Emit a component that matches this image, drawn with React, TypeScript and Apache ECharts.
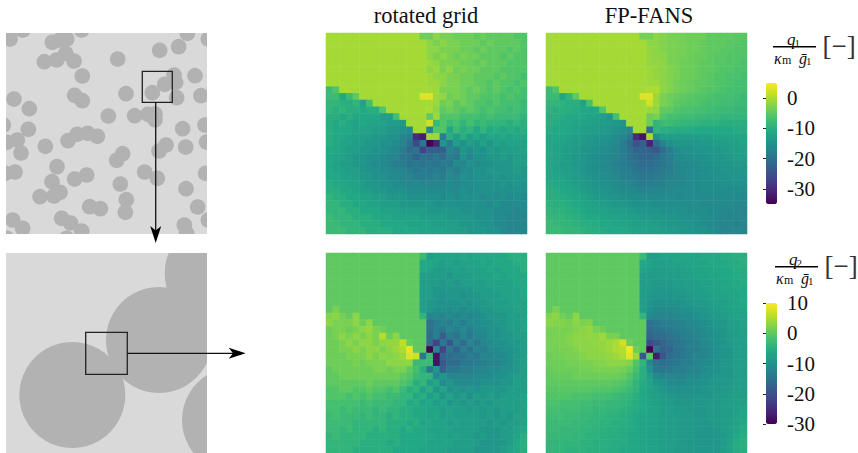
import React, { useEffect, useRef } from "react";
import * as echarts from "echarts";

const a = -0.5;
const q1Rotated = [
[a,a,a,a,a,a,a,a,a,a,a,a,a,a,-4,-4,-2,-3,-3,-4,-4,-4,-5,-4,-5,-5,-5,-5,-6,-6],
[a,a,a,a,a,a,a,a,a,a,a,a,a,a,a,-2,-3,-2,-3,-3,-4,-4,-4,-5,-4,-5,-5,-5,-5,-6],
[a,a,a,a,a,a,a,a,a,a,a,a,a,a,a,-2,-2,-3,-3,-3,-4,-4,-5,-4,-5,-5,-5,-6,-5,-6],
[a,a,a,a,a,a,a,a,a,a,a,a,a,a,a,-2,-3,-2,-3,-4,-3,-4,-4,-5,-5,-5,-6,-5,-6,-6],
[a,a,a,a,a,a,a,a,a,a,a,a,a,a,a,-1,-2,-3,-3,-3,-4,-4,-5,-4,-5,-5,-5,-6,-6,-6],
[a,a,a,a,a,a,a,a,a,a,a,a,a,a,a,-2,-1,-3,-2,-4,-3,-4,-4,-5,-5,-5,-6,-6,-6,-6],
[a,a,a,a,a,a,a,a,a,a,a,a,a,a,a,-1,-2,-2,-3,-3,-4,-4,-5,-5,-5,-6,-5,-6,-6,-7],
[a,a,a,a,a,a,a,a,a,a,a,a,a,a,a,-1,-1,-2,-3,-3,-4,-4,-5,-5,-6,-5,-6,-6,-7,-6],
[-8,-6,a,a,a,a,a,a,a,a,a,a,a,a,a,a,-1,-3,-3,-3,-4,-5,-4,-5,-6,-5,-6,-7,-6,-7],
[-8,-8,-11,-8,-5,a,a,a,a,a,a,a,a,a,3,3,-1,-1.5,-4,-3,-4,-5,-5,-6,-6,-6,-7,-6,-7,-7],
[-9,-9,-10,-10,-9,-12,-7,a,a,a,a,a,a,a,a,a,-1,-4,-3,-5,-4,-5,-6,-6,-7,-6,-7,-7,-7,-8],
[-9,-10,-9,-10,-10,-11,-10,-10,-6,a,a,a,a,a,a,0,-2,-5,-4,-5,-6,-5,-6,-7,-6,-7,-7,-8,-7,-8],
[-10,-10,-11,-10,-11,-11,-11,-11,-13,-13,-7,a,a,a,a,-5,-1,-6,-6,-6,-7,-7,-7,-8,-7,-8,-8,-8,-8,-9],
[-10,-11,-10,-11,-12,-11,-12,-12,-12,-13,-13,-14,a,a,a,2,-8,-6,-8,-7,-9,-7,-9,-8,-9,-9,-9,-10,-9,-10],
[-10,-11,-11,-11,-12,-12,-12,-13,-13,-14,-14,-15,-16,a,a,-17,-6,-6,-11,-8,-10,-9,-11,-9,-11,-10,-11,-10,-11,-10],
[-10,-11,-11,-12,-12,-13,-13,-14,-14,-15,-15,-17,-18,-30,-32,-1,-1,-18,-10,-13,-10,-13,-11,-13,-11,-12,-11,-12,-11,-11],
[-10,-11,-12,-12,-13,-13,-14,-14,-15,-15,-16,-17,-20,-26,-19,-35,-31,-14,-18,-13,-15,-13,-14,-12,-14,-12,-13,-12,-12,-12],
[-11,-11,-12,-13,-13,-14,-14,-15,-15,-16,-17,-18,-21,-20,-27,-23,-23,-23,-17,-18,-14,-16,-14,-15,-13,-14,-13,-13,-13,-12],
[-11,-12,-12,-13,-14,-14,-15,-15,-16,-17,-17,-19,-20,-22,-20,-21,-19,-21,-18,-19,-15,-17,-15,-15,-14,-14,-13,-14,-13,-13],
[-11,-12,-13,-13,-14,-14,-15,-16,-16,-17,-18,-18,-20,-19,-20,-19,-20,-18,-19,-16,-17,-15,-16,-15,-15,-14,-14,-14,-13,-13],
[-11,-12,-12,-13,-13,-14,-15,-15,-16,-16,-17,-17,-18,-19,-18,-19,-18,-19,-17,-18,-16,-16,-15,-15,-14,-14,-14,-14,-13,-14],
[-11,-11,-12,-12,-13,-14,-14,-15,-15,-16,-16,-17,-17,-18,-18,-18,-17,-18,-16,-17,-15,-16,-15,-15,-15,-14,-15,-14,-14,-14],
[-10,-11,-11,-12,-12,-13,-14,-14,-15,-15,-16,-16,-17,-16,-17,-17,-17,-17,-16,-17,-16,-16,-15,-15,-15,-15,-14,-15,-14,-15],
[-10,-10,-11,-11,-12,-13,-13,-14,-14,-15,-15,-15,-16,-16,-16,-16,-16,-16,-16,-16,-15,-16,-15,-15,-15,-15,-15,-15,-15,-15],
[-9,-10,-10,-11,-11,-12,-12,-13,-13,-14,-14,-14,-15,-15,-15,-15,-15,-16,-15,-16,-15,-15,-15,-16,-15,-16,-15,-16,-15,-16],
[-9,-9,-10,-10,-11,-11,-12,-12,-13,-13,-13,-14,-14,-14,-14,-14,-15,-15,-15,-15,-15,-15,-15,-15,-16,-15,-16,-16,-16,-16],
[-9,-9,-9,-10,-10,-11,-11,-11,-12,-12,-12,-13,-13,-13,-13,-14,-14,-14,-14,-14,-15,-15,-15,-15,-15,-16,-16,-16,-17,-16],
[-8,-9,-9,-9,-10,-10,-10,-11,-11,-11,-12,-12,-12,-12,-13,-13,-13,-13,-14,-14,-14,-14,-15,-15,-15,-16,-16,-17,-17,-17],
[-8,-8,-9,-9,-9,-10,-10,-10,-11,-11,-11,-11,-12,-12,-12,-12,-13,-13,-13,-13,-14,-14,-14,-15,-15,-16,-16,-17,-17,-17],
[-8,-8,-8,-9,-9,-9,-10,-10,-10,-10,-11,-11,-11,-11,-12,-12,-12,-12,-13,-13,-13,-14,-14,-14,-15,-15,-16,-17,-17,-17],
];
const q1Fans = [
[a,a,a,a,a,a,a,a,a,a,a,a,a,a,-3.5,-3.5,-2,-2.5,-3,-3,-3.5,-4,-4,-4,-5,-5,-5,-5,-5.5,-5.5],
[a,a,a,a,a,a,a,a,a,a,a,a,a,a,a,-2,-2,-2.5,-3,-3,-3.5,-4,-4,-4.5,-5,-5,-5,-5.5,-5.5,-6],
[a,a,a,a,a,a,a,a,a,a,a,a,a,a,a,-1.5,-2,-2.5,-3,-3,-3.5,-4,-4,-4.5,-5,-5,-5.5,-5.5,-6,-6],
[a,a,a,a,a,a,a,a,a,a,a,a,a,a,a,-1.5,-2,-2,-3,-3,-3.5,-4,-4.5,-4.5,-5,-5.5,-5.5,-6,-6,-6],
[a,a,a,a,a,a,a,a,a,a,a,a,a,a,a,-1.5,-1.5,-2,-3,-3,-4,-4,-4.5,-5,-5,-5.5,-5.5,-6,-6,-6.5],
[a,a,a,a,a,a,a,a,a,a,a,a,a,a,a,-1,-1.5,-2,-2.5,-3,-4,-4,-4.5,-5,-5,-5.5,-6,-6,-6.5,-6.5],
[a,a,a,a,a,a,a,a,a,a,a,a,a,a,a,-1,-1.5,-2,-2.5,-3,-4,-4,-4.5,-5,-5.5,-6,-6,-6.5,-6.5,-7],
[a,a,a,a,a,a,a,a,a,a,a,a,a,a,a,-1,-1,-2,-2.5,-3.5,-4,-4.5,-5,-5,-5.5,-6,-6,-6.5,-7,-7],
[-8,-6,a,a,a,a,a,a,a,a,a,a,a,a,a,0,0,-2,-2.5,-3.5,-4,-4.5,-5,-5.5,-6,-6,-6.5,-7,-7,-7],
[-8,-8,-11,-9,-5,a,a,a,a,a,a,a,a,a,3,3,-1,-3,-4,-4.5,-5,-5.5,-6,-6,-6.5,-7,-7,-7,-7.5,-8],
[-9,-9,-9.5,-10,-10,-12,-7,a,a,a,a,a,a,a,a,2,-1,-3,-4,-5,-5.5,-6,-6,-6.5,-7,-7,-7.5,-7.5,-8,-8],
[-9.5,-10,-10,-10,-10.5,-11,-11,-11,-6,a,a,a,a,a,a,-1,-1.5,-5,-5,-6,-6.5,-6.5,-7,-7,-7.5,-8,-8,-8,-8.5,-8.5],
[-10,-10,-10.5,-11,-11,-11,-11.5,-12,-13,-14,-7,a,a,a,a,-4,-3,-6,-7,-7,-7.5,-7.5,-8,-8,-8.5,-8.5,-9,-9,-9,-9],
[-10,-10.5,-11,-11,-11.5,-12,-12,-12.5,-13,-13.5,-14,-14.5,a,a,a,-4,-9,-8,-8,-8.5,-8.5,-9,-9,-9.5,-9.5,-9.5,-10,-10,-10,-10],
[-10.5,-11,-11,-11.5,-12,-12.5,-13,-13,-13.5,-14,-15,-15.5,-17,a,a,-21,-9,-10,-10,-10.5,-10.5,-10.5,-11,-11,-11,-11,-11,-11,-10.5,-10.5],
[-11,-11,-11.5,-12,-12.5,-13,-13.5,-14,-14.5,-15,-16,-17,-19,-30,-33,a,-15,-13,-13,-13,-13,-13,-13,-12.5,-12.5,-12,-12,-12,-11.5,-11.5],
[-11,-11.5,-12,-12.5,-13,-13.5,-14,-14.5,-15,-15.5,-16,-18,-21,-25,-23,-31,-21,-17,-15,-14,-14,-14,-14,-13.5,-13.5,-13,-13,-12.5,-12.5,-12],
[-11,-12,-12.5,-13,-13.5,-14,-14.5,-15,-15.5,-16,-17,-18,-20,-22,-22,-23,-24,-21,-18,-16,-15,-15,-14.5,-14.5,-14,-14,-13.5,-13,-13,-12.5],
[-11,-12,-12.5,-13,-14,-14,-15,-15.5,-16,-16.5,-17,-18,-20,-21,-21.5,-22,-21,-19,-18,-16.5,-16,-15.5,-15,-15,-14.5,-14,-14,-13.5,-13,-13],
[-11,-12,-13,-13,-14,-14.5,-15,-15.5,-16,-16.5,-17.5,-18,-19,-20,-21,-21,-20,-19,-18,-17,-16,-16,-15.5,-15,-15,-14.5,-14,-14,-13.5,-13.5],
[-11,-12,-12.5,-13,-13.5,-14.5,-15,-15.5,-16,-16.5,-17,-18,-18.5,-19.5,-20,-20,-19.5,-18.5,-18,-17,-16.5,-16,-16,-15.5,-15,-15,-14.5,-14.5,-14,-14],
[-11,-11.5,-12,-12.5,-13.5,-14,-14.5,-15,-15.5,-16,-16.5,-17.5,-18,-18.5,-19,-19,-18.5,-18,-17.5,-17,-16.5,-16,-16,-15.5,-15.5,-15,-15,-14.5,-14.5,-14.5],
[-10.5,-11,-11.5,-12,-13,-13.5,-14,-14.5,-15,-15.5,-16,-16.5,-17,-17.5,-18,-18,-17.5,-17.5,-17,-16.5,-16.5,-16,-16,-15.5,-15.5,-15.5,-15,-15,-15,-15],
[-10,-10.5,-11,-11.5,-12,-13,-13.5,-14,-14.5,-15,-15.5,-16,-16,-16.5,-17,-17,-17,-16.5,-16.5,-16,-16,-16,-16,-15.5,-15.5,-15.5,-15.5,-15.5,-15.5,-15.5],
[-10,-10,-10.5,-11,-11.5,-12,-13,-13.5,-14,-14.5,-14.5,-15,-15.5,-15.5,-16,-16,-16,-16,-16,-16,-16,-16,-16,-16,-16,-16,-16,-16,-16,-16],
[-9.5,-10,-10,-10.5,-11,-11.5,-12,-12.5,-13,-13.5,-14,-14,-14.5,-15,-15,-15,-15.5,-15.5,-15.5,-15.5,-15.5,-15.5,-15.5,-16,-16,-16,-16,-16,-16.5,-16.5],
[-9,-9.5,-9.5,-10,-10.5,-11,-11.5,-12,-12,-12.5,-13,-13,-13.5,-14,-14,-14.5,-14.5,-15,-15,-15,-15,-15.5,-15.5,-15.5,-16,-16,-16.5,-16.5,-16.5,-17],
[-8.5,-9,-9,-9.5,-10,-10.5,-11,-11,-11.5,-12,-12,-12.5,-13,-13,-13.5,-13.5,-14,-14,-14.5,-14.5,-15,-15,-15,-15.5,-16,-16,-16.5,-17,-17,-17],
[-8,-8.5,-9,-9,-9.5,-10,-10,-10.5,-11,-11,-11.5,-12,-12,-12.5,-12.5,-13,-13,-13.5,-14,-14,-14.5,-14.5,-15,-15.5,-16,-16.5,-17,-17,-17.5,-17],
[-8,-8,-8.5,-9,-9,-9.5,-10,-10,-10.5,-11,-11,-11,-11.5,-12,-12,-12.5,-12.5,-13,-13.5,-13.5,-14,-14.5,-15,-15,-15.5,-16,-17,-17,-17,-17],
];
const q2Rotated = [
[0,0,0,0,0,0,0,0,0,0,0,0,0,0,-3,-8,-7,-7,-7,-7,-6,-7,-6,-6,-6,-6,-6,-5,-5,-5],
[0,0,0,0,0,0,0,0,0,0,0,0,0,0,-6,-6,-7,-8,-7,-8,-7,-7,-7,-6,-7,-6,-6,-6,-5,-5],
[0,0,0,0,0,0,0,0,0,0,0,0,0,0,-6,-7,-8,-8,-8,-7,-8,-7,-7,-7,-6,-7,-6,-6,-6,-5],
[0,0,0,0,0,0,0,0,0,0,0,0,0,0,-8,-8,-8,-8,-9,-8,-8,-8,-7,-7,-7,-6,-7,-6,-6,-6],
[0,0,0,0,0,0,0,0,0,0,0,0,0,0,-8,-8,-8,-9,-8,-9,-8,-8,-8,-8,-7,-7,-7,-7,-6,-6],
[0,0,0,0,0,0,0,0,0,0,0,0,0,0,-8,-8,-9,-9,-9,-9,-9,-9,-8,-8,-8,-7,-7,-7,-7,-6],
[0,0,0,0,0,0,0,0,0,0,0,0,0,0,-8,-8,-9,-10,-9,-9,-10,-9,-9,-8,-8,-8,-7,-7,-7,-6],
[0,0,0,0,0,0,0,0,0,0,0,0,0,0,-8,-9,-9,-10,-10,-10,-9,-10,-9,-9,-8,-8,-8,-7,-7,-7],
[0,2,0,0,0,0,0,0,0,0,0,0,0,0,-8,-9,-10,-10,-11,-10,-11,-10,-10,-9,-9,-8,-8,-8,-7,-7],
[2.5,3,1.5,0.5,3,0,0,0,0,0,0,0,0,0,-4,-12,-11,-12,-11,-12,-11,-12,-11,-10,-9,-9,-9,-8,-8,-7],
[3,2,2,2,3,1,3,0,0,0,0,0,0,0,0,-15,-13,-12,-13,-11,-13,-11,-11,-10,-10,-9,-9,-8,-8,-7],
[1,2,2,1,2,3,3.5,2,1,0,0,0,0,0,0,-15,-13,-14,-12,-13,-11,-13,-11,-11,-10,-10,-9,-8,-8,-7],
[1,2,3,2,3,2,3,2,5.5,1,3,0,0,0,0,-16,-13,-18,-13,-15,-12,-14,-12,-12,-10,-10,-9,-9,-8,-8],
[1,1,2,3,2,3,3,2,3,3.5,3.5,6,1,0,0,-16,-22,-14,-19,-13,-16,-12,-14,-12,-11,-10,-10,-9,-9,-8],
[1,1,2,2,3,2,3,3,2,3,4,5,8.5,0,0,-30,-12,-22,-14,-17,-13,-15,-12,-13,-11,-11,-10,-10,-9,-8],
[1,1,1,2,2,2,3,2,3,2.5,3,4,8,7,-14,-3,-28,-17,-16,-15,-15,-13,-14,-12,-12,-11,-11,-10,-9,-8],
[1,1,1,1,2,1,2,2,2,3,3,3,3,-3,-3,-3,-28,-19,-16,-16,-14,-14,-13,-13,-12,-12,-11,-10,-9,-8],
[0,1,1,1,1,1,1,2,2,1,2,2,0,-2,-5,-14,-9,-18,-14,-14,-13,-13,-12,-12,-11,-11,-10,-10,-9,-8],
[0,0,1,1,1,1,1,1,1,1,1,0,-1,-3,-4,-4,-11,-9,-12,-12,-12,-12,-11,-11,-11,-10,-10,-9,-8,-8],
[0,0,0,0,0,0,1,0,0,0,0,-1,-2,-5,-4,-8,-6,-11,-9,-11,-11,-11,-11,-10,-10,-10,-9,-9,-8,-8],
[-1,-1,0,0,-1,-1,0,-1,-1,-2,-1,-3,-5,-4,-7,-5,-9,-7,-10,-9,-10,-9,-10,-9,-9,-9,-9,-8,-8,-8],
[-1,-1,-1,-2,-1,-2,-1,-2,-2,-3,-3,-4,-4,-6,-5,-8,-6,-9,-7,-9,-8,-10,-8,-9,-8,-9,-8,-8,-8,-7],
[-2,-2,-2,-2,-2,-3,-2,-3,-3,-3,-4,-4,-6,-5,-7,-6,-8,-7,-9,-8,-9,-8,-9,-8,-9,-8,-8,-8,-8,-7],
[-2,-2,-3,-2,-3,-3,-3,-4,-3,-4,-4,-5,-5,-6,-6,-7,-7,-8,-7,-8,-8,-9,-8,-9,-8,-9,-8,-8,-8,-7],
[-3,-2,-3,-3,-3,-4,-3,-4,-4,-5,-4,-5,-5,-6,-6,-7,-6,-8,-7,-8,-8,-8,-8,-9,-8,-9,-8,-9,-7,-7],
[-3,-3,-3,-3,-4,-4,-4,-4,-4,-5,-5,-5,-6,-5,-7,-6,-7,-7,-8,-7,-8,-8,-8,-8,-9,-8,-9,-8,-8,-7],
[-3,-3,-4,-3,-4,-4,-4,-5,-4,-5,-5,-6,-5,-6,-6,-7,-7,-7,-7,-8,-8,-8,-8,-9,-9,-9,-8,-8,-7,-6],
[-4,-3,-4,-4,-4,-4,-5,-5,-5,-5,-5,-6,-6,-6,-6,-6,-7,-7,-8,-7,-8,-8,-9,-8,-9,-9,-8,-8,-7,-5],
[-4,-4,-4,-4,-4,-5,-5,-5,-5,-6,-5,-6,-6,-6,-6,-7,-7,-7,-7,-8,-8,-8,-8,-9,-9,-9,-9,-8,-6,-5],
[-4,-4,-4,-4,-5,-5,-5,-5,-5,-5,-6,-6,-6,-6,-7,-7,-7,-7,-8,-8,-8,-8,-9,-9,-9,-9,-8,-7,-6,-5],
];
const q2Fans = [
[0,0,0,0,0,0,0,0,0,0,0,0,0,0,-3,-8,-7.5,-7,-7,-7,-6.5,-6.5,-6.5,-6,-6,-6,-5.5,-5.5,-5,-5],
[0,0,0,0,0,0,0,0,0,0,0,0,0,0,-6,-7,-7.5,-7.5,-7.5,-7,-7,-7,-6.5,-6.5,-6,-6,-6,-5.5,-5.5,-5],
[0,0,0,0,0,0,0,0,0,0,0,0,0,0,-6.5,-7.5,-8,-8,-7.5,-7.5,-7.5,-7,-7,-6.5,-6.5,-6,-6,-6,-5.5,-5.5],
[0,0,0,0,0,0,0,0,0,0,0,0,0,0,-8,-8,-8,-8,-8,-8,-7.5,-7.5,-7,-7,-6.5,-6.5,-6,-6,-5.5,-5.5],
[0,0,0,0,0,0,0,0,0,0,0,0,0,0,-8,-8,-8.5,-8.5,-8.5,-8,-8,-8,-7.5,-7,-7,-6.5,-6.5,-6,-6,-5.5],
[0,0,0,0,0,0,0,0,0,0,0,0,0,0,-8,-8.5,-9,-9,-9,-8.5,-8.5,-8,-8,-7.5,-7,-7,-6.5,-6.5,-6,-6],
[0,0,0,0,0,0,0,0,0,0,0,0,0,0,-8,-9,-9,-9.5,-9.5,-9,-9,-8.5,-8,-8,-7.5,-7,-7,-6.5,-6.5,-6],
[0,0,0,0,0,0,0,0,0,0,0,0,0,0,-8,-9.5,-10,-10,-10,-10,-9.5,-9,-8.5,-8.5,-8,-7.5,-7.5,-7,-6.5,-6],
[0,2,0,0,0,0,0,0,0,0,0,0,0,0,-8,-10,-11,-11,-11,-10.5,-10,-10,-9.5,-9,-8.5,-8,-7.5,-7,-7,-6.5],
[2.5,3,1.5,0.5,3,0,0,0,0,0,0,0,0,0,-4,-11,-12,-12,-12,-11.5,-11,-11,-10,-9.5,-9,-8.5,-8,-7.5,-7,-7],
[3,2.5,2.5,2,3,2,2.5,0,0,0,0,0,0,0,0,-15,-14,-13,-13,-12.5,-12,-11.5,-11,-10.5,-10,-9,-9,-8,-7.5,-7],
[2,2,2,2,2.5,3,3.5,2,1,0,0,0,0,0,0,-16,-15,-14,-14,-13,-12.5,-12,-11.5,-11,-10,-9.5,-9,-8,-8,-7.5],
[1.5,2,2,2.5,3,3,3.5,3,4,2,2,0,0,0,0,-17,-16,-16,-15,-14,-13,-12.5,-12,-11,-10.5,-10,-9,-8.5,-8,-7.5],
[1.5,2,2,2.5,3,3,3,3.5,3.5,4,5,7,1,0,0,-21,-19,-17,-16,-15,-14,-13,-12.5,-11.5,-11,-10,-9.5,-8.5,-8,-8],
[1.5,1.5,2,2,2.5,3,3,3,3.5,4,5,5.5,9.5,1,0,-30,-15,-18,-17,-15,-14,-13,-12.5,-12,-11,-10,-9.5,-9,-8,-8],
[1,1.5,1.5,2,2,2.5,3,3,3,3.5,4,5,8.5,4,-19,0,-27,-19,-16,-15,-14,-13,-12,-12,-11,-10,-9.5,-9,-8,-8],
[1,1,1,1.5,1.5,2,2,2.5,2.5,3,3,3,2.5,-1,-4,-12,-15,-16,-15,-14,-13,-13,-12,-11,-11,-10,-9,-9,-8,-8],
[0.5,1,1,1,1,1.5,1.5,2,2,2,2,1.5,0.5,-2,-5,-10,-14,-14,-14,-13,-13,-12,-12,-11,-10,-10,-9,-9,-8,-8],
[0,0.5,0.5,0.5,1,1,1,1,1,1,1,0.5,-1,-3,-5,-8,-11,-12,-12,-12,-12,-11,-11,-10,-10,-9,-9,-9,-8,-8],
[0,0,0,0,0,0,0,0,0,0,-0.5,-1,-2,-4,-5.5,-7,-9,-10,-11,-11,-11,-10.5,-10,-10,-9.5,-9,-9,-8.5,-8,-8],
[-0.5,-0.5,-0.5,-0.5,-0.5,-0.5,-0.5,-1,-1,-1,-1.5,-2,-3,-4,-6,-7,-8,-9,-10,-10,-10,-10,-10,-9.5,-9,-9,-8.5,-8.5,-8,-8],
[-1,-1,-1,-1,-1.5,-1.5,-1.5,-2,-2,-2.5,-3,-3.5,-4,-5,-6,-7,-7.5,-8.5,-9,-9,-9.5,-9.5,-9,-9,-9,-8.5,-8.5,-8,-8,-7.5],
[-1.5,-1.5,-2,-2,-2,-2.5,-2.5,-3,-3,-3.5,-3.5,-4,-4.5,-5.5,-6,-7,-7.5,-8,-8.5,-9,-9,-9,-9,-9,-8.5,-8.5,-8,-8,-7.5,-7.5],
[-2,-2,-2.5,-2.5,-2.5,-3,-3,-3.5,-3.5,-4,-4,-4.5,-5,-5.5,-6,-6.5,-7,-8,-8,-8.5,-8.5,-9,-9,-9,-8.5,-8.5,-8,-8,-7.5,-7],
[-2.5,-2.5,-2.5,-3,-3,-3.5,-3.5,-4,-4,-4.5,-4.5,-5,-5.5,-6,-6.5,-7,-7,-7.5,-8,-8,-8.5,-8.5,-9,-9,-8.5,-8.5,-8,-8,-7,-6.5],
[-3,-3,-3,-3,-3.5,-3.5,-4,-4,-4.5,-4.5,-5,-5,-5.5,-6,-6.5,-7,-7,-7.5,-8,-8,-8.5,-8.5,-9,-9,-9,-8.5,-8,-8,-7,-6],
[-3,-3,-3.5,-3.5,-3.5,-4,-4,-4.5,-4.5,-5,-5,-5.5,-5.5,-6,-6.5,-7,-7,-7.5,-8,-8,-8.5,-8.5,-9,-9,-9,-9,-8,-7.5,-6.5,-5.5],
[-3.5,-3.5,-3.5,-3.5,-4,-4,-4.5,-4.5,-5,-5,-5,-5.5,-6,-6,-6.5,-7,-7,-7.5,-8,-8,-8.5,-8.5,-9,-9,-9,-9,-8.5,-7.5,-6,-5],
[-4,-4,-4,-4,-4,-4.5,-4.5,-5,-5,-5,-5.5,-5.5,-6,-6,-6.5,-7,-7,-7.5,-8,-8,-8.5,-9,-9,-9,-9,-9,-8.5,-7,-5.5,-5],
[-4,-4,-4,-4.5,-4.5,-4.5,-5,-5,-5,-5.5,-5.5,-6,-6,-6,-6.5,-7,-7,-7.5,-8,-8.5,-8.5,-9,-9,-9,-9,-9,-8,-7,-5.5,-5],
];

const rawCoarse = [
[30,42],[68,15],[157,52],[180,45],[200,42],[245,15],[197,85],[133,110],[170,105],[222,108],[247,153],[353,102],[479,76],[536,65],[562,25],[625,42],[522,150],[527,172],[494,178],[457,203],[585,152],[378,206],[530,218],[603,212],[224,211],[247,227],[42,222],[88,251],[325,273],[404,272],[444,268],[465,267],[465,284],[10,300],[85,313],[548,311],[615,300],[52,345],[20,352],[63,384],[136,364],[204,347],[231,328],[263,325],[292,334],[498,360],[477,378],[557,366],[620,351],[368,386],[350,406],[171,425],[45,441],[15,445],[434,441],[472,460],[617,445],[260,450],[224,462],[156,470],[361,477],[558,491],[180,502],[162,513],[120,515],[379,524],[376,562],[269,545],[301,551],[593,546],[38,585],[68,610],[185,580],[212,594],[245,618],[553,600],[560,625],[625,585],[200,640],[20,640],
];
const coarseCircles = rawCoarse.map(([x, y]) => [x - 18, y - 24]);
const coarseRadius = 23.5;
const fineCircles = [[199, 426], [459, 261], [635, 61], [687, 501]];
const fineRadius = 159;

const q1Ticks = [-30, -20, -10, 0];
const q2Ticks = [-30, -20, -10, 0, 10];
const viridis = ["#440154","#482475","#414487","#355f8d","#2a788e","#21918c","#22a884","#44bf70","#7ad151","#bddf26","#fde725"];

const FONT = "Liberation Serif";
const cells = (rows: number[][]) => rows.flatMap((r, y) => r.map((v, x) => [x, y, v]));
const idx = Array.from({ length: 30 }, (_, i) => String(i));

function label(ox: number, oy: number, nume: string) {
  const t = (text: string, x: number, y: number, fontSize: number, fontStyle = "normal", fill = "#111") => ({
    type: "text", x: x + ox, y: y + oy, silent: true, z: 20,
    style: { text, fontFamily: FONT, fontSize, fontStyle, fill, textVerticalAlign: "middle", textAlign: "left" },
  });
  return [
    t("q", 787, 39, 17, "italic"),
    t(nume, 794.5, 43, 11),
    { type: "line", z: 20, silent: true, shape: { x1: 773 + ox, y1: 46.7 + oy, x2: 816 + ox, y2: 46.7 + oy }, style: { stroke: "#000", lineWidth: 1.5 } },
    t("κ", 774, 58, 16, "italic"),
    t("m", 782, 60, 12),
    t("ḡ", 799, 58, 16, "italic"),
    t("1", 806, 61, 11),
    t("[−]", 822.5, 46, 27, "normal", "#333"),
  ];
}

function circleSeries(data: number[][], r: number, xAxisIndex: number) {
  return {
    type: "custom", xAxisIndex, yAxisIndex: xAxisIndex, clip: true, data, silent: true,
    coordinateSystem: "cartesian2d",
    renderItem: (_: any, api: any) => {
      const c = api.coord([api.value(0), api.value(1)]);
      const s = api.size([r, 0]);
      return { type: "circle", shape: { cx: c[0], cy: c[1], r: s[0] }, style: { fill: "#b2b2b2" } };
    },
  };
}

export default function App() {
  const ref = useRef<HTMLDivElement>(null);
  useEffect(() => {
    document.body.style.margin = "0";
    const chart = echarts.init(ref.current!, undefined, { renderer: "svg" });
    const panels = [
      [6, 33, 201], [6, 253, 200],
      [326, 33, 201], [546, 33, 201], [326, 253, 200], [546, 253, 200],
    ];
    const grid: any[] = panels.map(([left, top, h], i) => ({
      left, top, width: 201, height: h, show: i < 2, backgroundColor: "#d9d9d9", borderWidth: 0,
    }));
    grid.push({ left: 766, top: 83, width: 11, height: 121 });
    grid.push({ left: 766, top: 303, width: 11, height: 121 });
    const xAxis: any[] = [], yAxis: any[] = [];
    panels.forEach((_, i) => {
      if (i < 2) {
        xAxis.push({ type: "value", gridIndex: i, min: 0, max: 603, show: false });
        yAxis.push({ type: "value", gridIndex: i, min: 0, max: i === 0 ? 603 : 600, inverse: true, show: false });
      } else {
        xAxis.push({ type: "category", gridIndex: i, data: idx, show: false });
        yAxis.push({ type: "category", gridIndex: i, data: idx, inverse: true, show: false });
      }
    });
    const barAxis = (gridIndex: number, min: number, max: number, ticks: number[]) => {
      xAxis.push({ type: "value", gridIndex, show: false });
      yAxis.push({
        type: "value", gridIndex, min, max, position: "right", z: 10,
        splitLine: { show: false }, axisLine: { show: false },
        axisTick: { show: true, inside: true, length: 3, customValues: ticks, lineStyle: { color: "#222", width: 1 } },
        axisLabel: { show: true, margin: 10, customValues: ticks, fontFamily: FONT, fontSize: 21, color: "#111" },
      });
    };
    barAxis(6, -35, 5, q1Ticks);
    barAxis(7, -30, 10, q2Ticks);
    const heat = (rows: number[][], i: number) => ({
      type: "heatmap", xAxisIndex: i, yAxisIndex: i, data: cells(rows), progressive: 0, silent: true,
      emphasis: { disabled: true },
    });
    const cbar = (seriesIndex: number[], min: number, max: number, top: number) => ({
      type: "continuous", seriesIndex, min, max, dimension: 2, left: 766, top, padding: 0,
      itemWidth: 11, itemHeight: 121, calculable: false, hoverLink: false, showLabel: false, text: undefined,
      inRange: { color: viridis }, outOfRange: { color: viridis },
    });
    const title = (text: string, x: number) => ({
      type: "text", x, y: 15, silent: true,
      style: { text, fontFamily: FONT, fontSize: 22.5, fill: "#111", textAlign: "center", textVerticalAlign: "middle" },
    });
    const rect = (x: number, y: number, width: number, height: number) => ({
      type: "rect", z: 15, silent: true, shape: { x, y, width, height },
      style: { fill: "none", stroke: "#222", lineWidth: 1.3 },
    });
    const line = (x1: number, y1: number, x2: number, y2: number) => ({
      type: "line", z: 15, silent: true, shape: { x1, y1, x2, y2 }, style: { stroke: "#111", lineWidth: 1.3 },
    });
    const head = (points: number[][]) => ({
      type: "polygon", z: 15, silent: true, shape: { points }, style: { fill: "#000" },
    });
    chart.setOption({
      animation: false,
      backgroundColor: "#fff",
      grid, xAxis, yAxis,
      visualMap: [cbar([2, 3], -35, 5, 83), cbar([4, 5], -30, 10, 303)],
      series: [
        circleSeries(coarseCircles, coarseRadius, 0),
        circleSeries(fineCircles, fineRadius, 1),
        heat(q1Rotated, 2), heat(q1Fans, 3), heat(q2Rotated, 4), heat(q2Fans, 5),
      ],
      graphic: [
        title("rotated grid", 426), title("FP-FANS", 649),
        rect(142.3, 71.3, 30, 31), rect(85.7, 332.3, 41.6, 42),
        line(155.7, 102, 155.7, 232), head([[155.7, 243], [161.2, 226], [155.7, 230.5], [150.2, 226]]),
        line(127.3, 353.3, 235, 353.3), head([[245.7, 353.3], [228.7, 347.8], [233, 353.3], [228.7, 358.8]]),
        ...label(0, 0, "1"),
        ...label(2, 220, "2"),
      ],
    });
    return () => chart.dispose();
  }, []);
  return <div ref={ref} style={{ position: "fixed", left: 0, top: 0, width: 858, height: 453 }} />;
}
